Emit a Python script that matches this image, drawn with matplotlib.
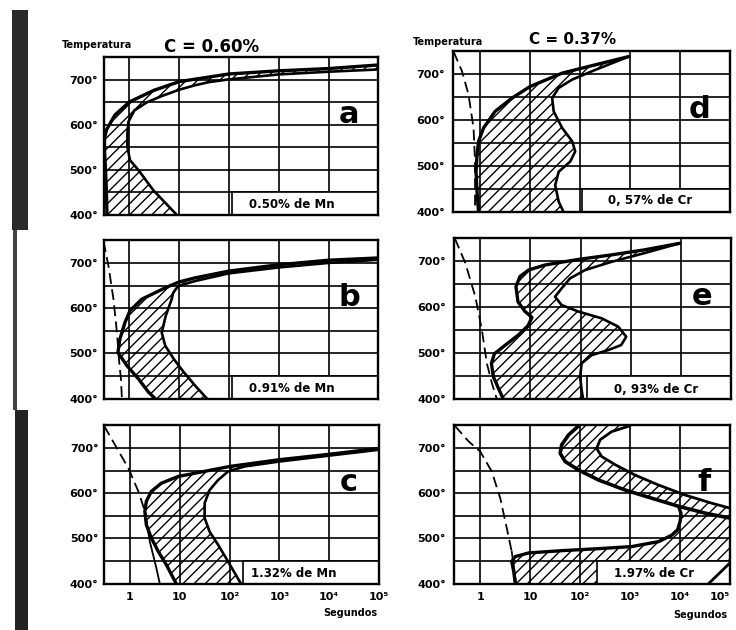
import numpy as np
import matplotlib

matplotlib.use("Agg")
import matplotlib.pyplot as plt
from matplotlib.patches import Polygon, Rectangle

plt.rcParams["font.family"] = "DejaVu Sans"
plt.rcParams["hatch.linewidth"] = 1.0

# --- curves: temperature (deg C) vs log10(seconds) --------------------------
# a: C 0.60%, 0.50% Mn
a_start_T = [733, 725, 720, 713, 696, 677, 651, 622, 589, 570, 545, 500, 450, 400]
a_start_lg = [5.0, 4.0, 3.0, 2.0, 1.0, 0.5, 0.0, -0.29, -0.46, -0.5, -0.5, -0.48, -0.46, -0.45]
a_end_T = [723, 718, 712, 701, 695, 688, 678, 664, 650, 632, 607, 581, 552, 522, 500, 455, 404, 400]
a_end_lg = [5.0, 4.0, 3.0, 2.0, 1.6, 1.32, 1.0, 0.65, 0.35, 0.1, -0.02, -0.04, -0.04, 0.01, 0.18, 0.48, 0.92, 0.95]

# b: 0.91% Mn
b_start_T = [711, 706, 696, 682, 667, 658, 645, 620, 594, 568, 532, 502, 473, 444, 415, 400]
b_start_lg = [5.0, 4.0, 3.0, 2.0, 1.32, 1.0, 0.72, 0.25, 0.01, -0.09, -0.19, -0.23, -0.05, 0.18, 0.38, 0.52]
b_end_T = [707, 700, 690, 677, 660, 649, 634, 620, 583, 546, 517, 488, 459, 429, 400]
b_end_lg = [5.0, 4.0, 3.0, 2.0, 1.32, 0.98, 0.88, 0.85, 0.73, 0.65, 0.72, 0.89, 1.09, 1.32, 1.56]
b_dash_T = [748, 693, 620, 546, 488, 444, 400]
b_dash_lg = [-0.52, -0.42, -0.32, -0.25, -0.21, -0.17, -0.15]

# c: 1.32% Mn
c_start_T = [699, 686, 674, 659, 644, 637, 622, 604, 582, 560, 530, 501, 471, 442, 400]
c_start_lg = [5.0, 4.0, 3.0, 2.0, 1.3, 0.97, 0.63, 0.43, 0.33, 0.3, 0.33, 0.43, 0.57, 0.73, 0.93]
c_end_T = [696, 683, 670, 659, 648, 629, 607, 578, 545, 515, 486, 449, 400]
c_end_lg = [5.0, 4.0, 3.0, 2.3, 1.97, 1.77, 1.6, 1.5, 1.5, 1.6, 1.77, 1.97, 2.23]
c_dash_T = [749, 707, 655, 604, 560]
c_dash_lg = [-0.52, -0.3, -0.03, 0.17, 0.3]
c_tail_T = [560, 493, 435, 400]
c_tail_lg = [0.3, 0.4, 0.53, 0.6]

# d: C 0.37%, 0.57% Cr
d_start_T = [738, 720, 702, 673, 648, 619, 583, 554, 525, 488, 445, 400]
d_start_lg = [2.98, 2.31, 1.65, 1.01, 0.65, 0.31, 0.08, -0.02, -0.05, -0.07, -0.05, -0.02]
d_end_T = [738, 709, 688, 670, 648, 619, 583, 554, 532, 510, 488, 459, 423, 400]
d_end_lg = [2.98, 2.31, 1.85, 1.58, 1.45, 1.48, 1.65, 1.85, 1.91, 1.81, 1.58, 1.51, 1.58, 1.68]
d_dash_T = [749, 706, 655, 583, 510, 400]
d_dash_lg = [-0.52, -0.35, -0.22, -0.12, -0.09, -0.09]

# e: 0.93% Cr
e_start_T = [739, 725, 714, 704, 692, 681, 667, 645, 612, 591, 578, 560, 540, 518, 499, 478, 449, 424, 400]
e_start_lg = [3.97, 3.28, 2.62, 1.95, 1.29, 0.96, 0.79, 0.71, 0.75, 0.89, 1.03, 0.95, 0.76, 0.5, 0.28, 0.22, 0.26, 0.36, 0.46]
e_end_T = [739, 718, 699, 681, 663, 641, 623, 605, 591, 576, 558, 536, 518, 507, 496, 478, 449, 420, 400]
e_end_lg = [3.97, 3.28, 2.62, 2.09, 1.79, 1.62, 1.49, 1.62, 1.95, 2.42, 2.75, 2.91, 2.81, 2.55, 2.22, 2.02, 1.99, 2.02, 2.05]
e_dash_T = [750, 696, 623, 551, 478, 435, 400]
e_dash_lg = [-0.51, -0.3, -0.1, 0.03, 0.13, 0.23, 0.33]

# f: 1.97% Cr (upper band + lower bay)
f_pstart_T = [749, 729, 707, 688, 670, 651, 629, 607, 589, 571, 556, 545]
f_pstart_lg = [1.97, 1.77, 1.63, 1.6, 1.7, 1.97, 2.37, 2.9, 3.43, 3.97, 4.5, 5.0]
f_pend_T = [749, 736, 718, 699, 681, 663, 640, 618, 596, 578, 567]
f_pend_lg = [3.0, 2.63, 2.4, 2.33, 2.43, 2.7, 3.1, 3.57, 4.1, 4.63, 5.0]
f_bstart_T = [571, 555, 537, 519, 507, 493, 482, 477, 473, 468, 460, 449, 427, 400]
f_bstart_lg = [3.97, 4.02, 4.0, 3.95, 3.83, 3.57, 3.03, 2.3, 1.63, 0.97, 0.7, 0.63, 0.67, 0.7]
f_bend_T = [400, 446]
f_bend_lg = [4.57, 5.0]
f_dash_T = [749, 714, 692, 648, 589, 523, 471]
f_dash_lg = [-0.51, -0.23, 0.0, 0.23, 0.4, 0.53, 0.63]
f_tail_T = [471, 400]
f_tail_lg = [0.63, 0.72]

x_ticks = [1, 10, 1e2, 1e3, 1e4, 1e5]
x_tick_labels = ["1", "10", "10²", "10³", "10⁴", "10⁵"]
y_ticks = [400, 450, 500, 550, 600, 650, 700]
y_tick_labels = ["400°", "", "500°", "", "600°", "", "700°"]

panel_letters = ["a", "b", "c", "d", "e", "f"]
box_texts = ["0.50% de Mn", "0.91% de Mn", "1.32% de Mn",
             "0, 57% de Cr", "0, 93% de Cr", "1.97% de Cr"]


def s(lg):
    return 10.0 ** np.asarray(lg, dtype=float)


W, H = 736, 630
fig = plt.figure(figsize=(W / 100, H / 100), dpi=100)


def px_axes(left, top, right, bottom):
    return fig.add_axes([left / W, 1 - bottom / H, (right - left) / W, (bottom - top) / H])


def setup(ax, bottom_row, right_col):
    ax.set_xscale("log")
    ax.set_xlim(10 ** -0.52, 1e5)
    ax.set_ylim(400, 750)
    ax.set_xticks(x_ticks)
    ax.minorticks_off()
    ax.set_yticks(y_ticks)
    ax.set_yticklabels(y_tick_labels, fontsize=8, fontweight="bold")
    if bottom_row:
        labels = ax.set_xticklabels(x_tick_labels, fontsize=8, fontweight="bold")
        if right_col:
            # last label sits on the page edge in the scan
            labels[-1].set_ha("right")
    else:
        ax.set_xticklabels([""] * len(x_ticks))
    ax.tick_params(axis="x", length=0, pad=6)
    ax.tick_params(axis="y", length=0, pad=6 if right_col else 4)
    ax.set_axisbelow(True)
    ax.grid(True, color="k", lw=1.2)
    for sp in ax.spines.values():
        sp.set_linewidth(1.7)
        sp.set_zorder(6)


def hatch_poly(ax, xs, ys):
    pts = np.column_stack([s(xs), ys])
    ax.add_patch(Polygon(pts, closed=True, facecolor="none", edgecolor="k",
                         lw=0, hatch="///", zorder=2))


def line(ax, lg, T, lw=2.2, **kw):
    ax.plot(s(lg), T, color="k", lw=lw, zorder=4, solid_joinstyle="round",
            solid_capstyle="round", **kw)


def dashed(ax, lg, T):
    ax.plot(s(lg), T, color="k", lw=1.3, zorder=4, linestyle=(0, (6, 3)))


def band(ax, st_lg, st_T, en_lg, en_T):
    hatch_poly(ax, list(st_lg) + list(en_lg)[::-1], list(st_T) + list(en_T)[::-1])
    line(ax, st_lg, st_T, lw=2.4)
    line(ax, en_lg, en_T, lw=1.9)


def label_box(ax, x0, text, xc, yc):
    ax.add_patch(Rectangle((s(x0), 400), 1e5 - s(x0), 50, facecolor="white",
                           edgecolor="k", lw=1.2, zorder=3))
    ax.text(s(xc), yc, text, ha="center", va="center", fontsize=8.5,
            fontweight="bold", zorder=5)


def letter(ax, ch, xc):
    ax.text(s(xc), 605, ch, ha="center", va="baseline", fontsize=22,
            fontweight="bold", zorder=5)


ax_a = px_axes(103.5, 57.3, 378.3, 215)
ax_b = px_axes(103.5, 240.3, 378.3, 398.7)
ax_c = px_axes(104, 425.3, 379, 583.7)
ax_d = px_axes(453.5, 51, 730, 212.3)
ax_e = px_axes(454.3, 238.3, 731, 399.3)
ax_f = px_axes(454.3, 425.3, 730, 583.7)

for ax, bot, rc in [(ax_a, False, False), (ax_b, False, False), (ax_c, True, False),
                    (ax_d, False, True), (ax_e, False, True), (ax_f, True, True)]:
    setup(ax, bot, rc)

# a
band(ax_a, a_start_lg, a_start_T, a_end_lg, a_end_T)
label_box(ax_a, 2.06, box_texts[0], 3.27, 424)
letter(ax_a, panel_letters[0], 4.42)

# b
band(ax_b, b_start_lg, b_start_T, b_end_lg, b_end_T)
dashed(ax_b, b_dash_lg, b_dash_T)
label_box(ax_b, 2.06, box_texts[1], 3.27, 423)
letter(ax_b, panel_letters[1], 4.42)

# c
band(ax_c, c_start_lg, c_start_T, c_end_lg, c_end_T)
dashed(ax_c, c_dash_lg, c_dash_T)
line(ax_c, c_tail_lg, c_tail_T, lw=1.3)
label_box(ax_c, 2.28, box_texts[2], 3.28, 423)
letter(ax_c, panel_letters[2], 4.4)

# d
band(ax_d, d_start_lg, d_start_T, d_end_lg, d_end_T)
dashed(ax_d, d_dash_lg, d_dash_T)
label_box(ax_d, 2.05, box_texts[3], 3.41, 426)
letter(ax_d, panel_letters[3], 4.39)

# e
band(ax_e, e_start_lg, e_start_T, e_end_lg, e_end_T)
dashed(ax_e, e_dash_lg, e_dash_T)
label_box(ax_e, 2.12, box_texts[4], 3.51, 422)
letter(ax_e, panel_letters[4], 4.42)

# f: one hatched region bounded by the four curves
f_xs = f_pstart_lg[:10] + f_bstart_lg[1:] + f_bend_lg + f_pend_lg[::-1]
f_ys = f_pstart_T[:10] + f_bstart_T[1:] + f_bend_T + f_pend_T[::-1]
hatch_poly(ax_f, f_xs, f_ys)
label_box(ax_f, 2.33, box_texts[5], 3.47, 423.5)
line(ax_f, f_pstart_lg, f_pstart_T, lw=2.6)
line(ax_f, f_pend_lg, f_pend_T, lw=2.0)
line(ax_f, f_bstart_lg, f_bstart_T, lw=2.4)
line(ax_f, f_bend_lg, f_bend_T, lw=2.0)
dashed(ax_f, f_dash_lg, f_dash_T)
line(ax_f, f_tail_lg, f_tail_T, lw=1.3)
letter(ax_f, panel_letters[5], 4.48)

# headings
fig.text(212 / W, 1 - 47 / H, "C = 0.60%", ha="center", va="center",
         fontsize=12, fontweight="bold")
fig.text(97 / W, 1 - 45 / H, "Temperatura", ha="center", va="center",
         fontsize=7, fontweight="bold")
fig.text(448 / W, 1 - 42 / H, "Temperatura", ha="center", va="center",
         fontsize=7, fontweight="bold")
fig.text(573 / W, 1 - 40 / H, "C = 0.37%", ha="center", va="center",
         fontsize=11, fontweight="bold")
ax_c.text(0.993, -0.185, "Segundos", transform=ax_c.transAxes, ha="right",
          va="center", fontsize=7, fontweight="bold")
ax_f.text(0.99, -0.198, "Segundos", transform=ax_f.transAxes, ha="right",
          va="center", fontsize=7, fontweight="bold")

# dark binding shadow at the left edge of the scan
fig.add_artist(Rectangle((12 / W, 1 - 230 / H), 16 / W, 220 / H,
                         transform=fig.transFigure, color="#2a2a2a", lw=0))
fig.add_artist(Rectangle((13 / W, 1 - 410 / H), 4 / W, 180 / H,
                         transform=fig.transFigure, color="#444444", lw=0))
fig.add_artist(Rectangle((15 / W, 0), 13 / W, 1 - 410 / H,
                         transform=fig.transFigure, color="#222222", lw=0))

fig.savefig("out.png", dpi=100)
